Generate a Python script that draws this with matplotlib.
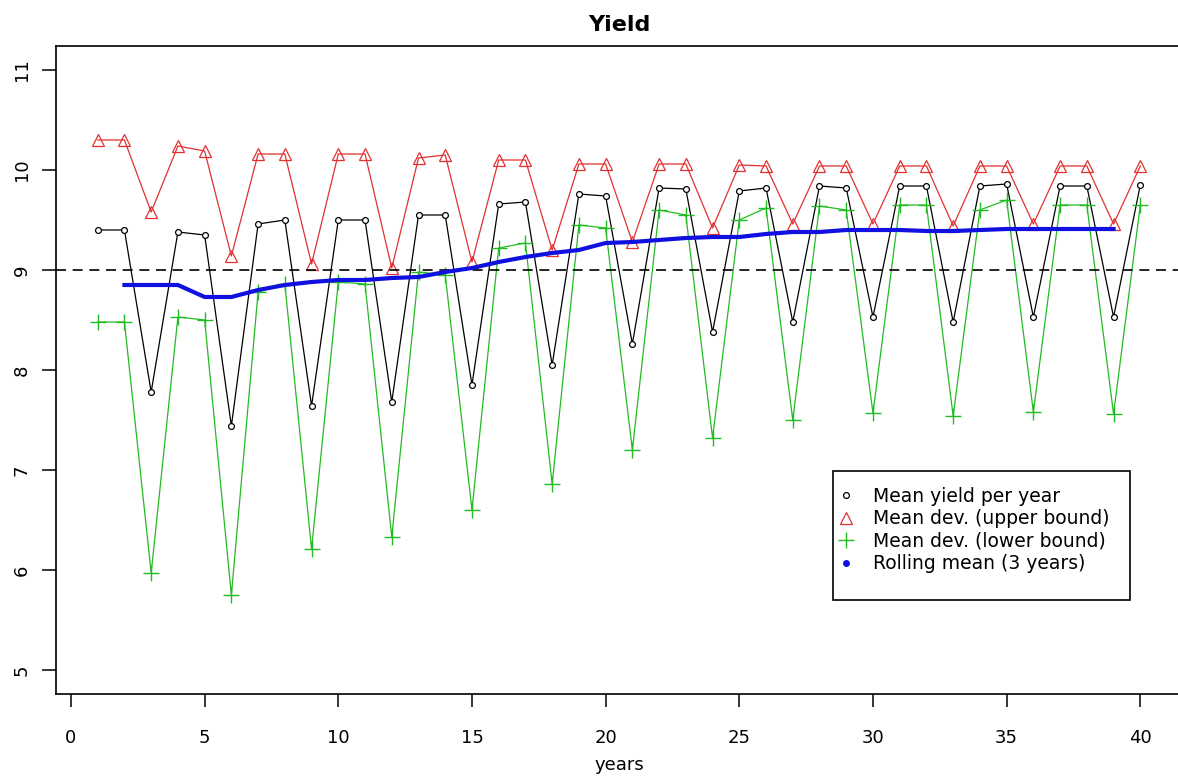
import matplotlib
matplotlib.use('Agg')
import matplotlib.pyplot as plt
from matplotlib.lines import Line2D
from matplotlib.patches import Rectangle

# ---------------- data ----------------
years = list(range(1, 41))
mean_yield = [9.40, 9.40, 7.78, 9.38, 9.35, 7.44, 9.46, 9.50, 7.64, 9.50,
              9.50, 7.68, 9.55, 9.55, 7.85, 9.66, 9.68, 8.05, 9.76, 9.74,
              8.26, 9.82, 9.81, 8.38, 9.79, 9.82, 8.48, 9.84, 9.82, 8.53,
              9.84, 9.84, 8.48, 9.84, 9.86, 8.53, 9.84, 9.84, 8.53, 9.85]
upper_bound = [10.30, 10.30, 9.58, 10.24, 10.19, 9.14, 10.16, 10.16, 9.06, 10.16,
               10.16, 9.02, 10.12, 10.15, 9.08, 10.10, 10.10, 9.20, 10.06, 10.06,
               9.28, 10.06, 10.06, 9.42, 10.05, 10.04, 9.46, 10.04, 10.04, 9.46,
               10.04, 10.04, 9.44, 10.04, 10.04, 9.46, 10.04, 10.04, 9.46, 10.04]
lower_bound = [8.48, 8.48, 5.97, 8.53, 8.50, 5.75, 8.78, 8.86, 6.21, 8.88,
               8.86, 6.33, 8.98, 8.95, 6.60, 9.22, 9.27, 6.86, 9.45, 9.42,
               7.20, 9.60, 9.55, 7.32, 9.50, 9.62, 7.50, 9.64, 9.60, 7.57,
               9.65, 9.65, 7.54, 9.60, 9.70, 7.58, 9.65, 9.65, 7.56, 9.65]
roll_years = list(range(2, 40))
rolling_mean = [8.85, 8.85, 8.85, 8.73, 8.73, 8.80, 8.85, 8.88, 8.90, 8.90,
                8.92, 8.93, 8.98, 9.02, 9.08, 9.13, 9.17, 9.20, 9.27, 9.28,
                9.30, 9.32, 9.33, 9.33, 9.36, 9.38, 9.38, 9.40, 9.40, 9.40,
                9.39, 9.39, 9.40, 9.41, 9.41, 9.41, 9.41, 9.41]
reference_level = 9
x_ticks = [0, 5, 10, 15, 20, 25, 30, 35, 40]
y_ticks = [5, 6, 7, 8, 9, 10, 11]
title_text = "Yield"
x_label = "years"
legend_labels = ["Mean yield per year", "Mean dev. (upper bound)",
                 "Mean dev. (lower bound)", "Rolling mean (3 years)"]

# ---------------- style ----------------
plt.rcParams['font.family'] = ['DejaVu Sans']
RED = '#e23030'
GREEN = '#22bb22'
BLUE = '#1010e0'

W, H = 1178, 778
fig = plt.figure(figsize=(W / 100, H / 100), dpi=100)
ax = fig.add_axes([56 / W, 1 - 694 / H, 1126 / W, 648 / H])
ax.set_xlim(-0.56, 41.56)
ax.set_ylim(4.76, 11.24)

ax.plot(years, mean_yield, color='black', lw=0.9, marker='o', ms=4.2,
        mfc='white', mec='black', mew=0.9, zorder=3)
ax.plot(years, upper_bound, color=RED, lw=0.9, marker='^', ms=8.5,
        mfc='none', mec=RED, mew=0.9, zorder=3)
ax.plot(years, lower_bound, color=GREEN, lw=0.9, marker='+', ms=11,
        mec=GREEN, mew=1.0, zorder=3)
ax.axhline(reference_level, color='black', lw=1.2, dashes=(6, 4), zorder=4)
ax.plot(roll_years, rolling_mean, color=BLUE, lw=3.0, zorder=5,
        solid_joinstyle='miter')

ax.set_xticks(x_ticks)
ax.set_yticks(y_ticks)
ax.tick_params(axis='x', length=9, width=1.1, pad=16, labelsize=13)
ax.tick_params(axis='y', length=10, width=1.1, pad=8, labelsize=13)
for lbl in ax.get_yticklabels():
    lbl.set_rotation(90)
    lbl.set_va('center')
    lbl.set_ha('right')
for name, sp in ax.spines.items():
    sp.set_linewidth(1.2)
ax.spines['right'].set_visible(False)

ax.set_title(title_text, fontsize=16, fontweight='bold', pad=11)
ax.set_xlabel(x_label, fontsize=13, labelpad=7)

# legend box (drawn by hand to match the asymmetric padding)
ax.add_patch(Rectangle((833 / W, 1 - 600 / H), 297 / W, 129 / H,
                       transform=fig.transFigure, facecolor='white',
                       edgecolor='black', lw=1.2, zorder=6, clip_on=False))
handles = [
    Line2D([], [], ls='none', marker='o', ms=4.2, mfc='white', mec='black', mew=0.9),
    Line2D([], [], ls='none', marker='^', ms=8.5, mfc='none', mec=RED, mew=0.9),
    Line2D([], [], ls='none', marker='+', ms=11, mec=GREEN, mew=1.0),
    Line2D([], [], ls='none', marker='o', ms=4.0, mfc=BLUE, mec=BLUE),
]
leg = ax.legend(handles, legend_labels, loc='upper left',
                bbox_to_anchor=(836.6 / W, 1 - 486.5 / H),
                bbox_transform=fig.transFigure,
                borderaxespad=0, borderpad=0, fontsize=13.5, handlelength=1.0,
                handletextpad=0.94, labelspacing=0.19, frameon=False)
leg.set_zorder(7)

fig.savefig('out.png', dpi=100)
